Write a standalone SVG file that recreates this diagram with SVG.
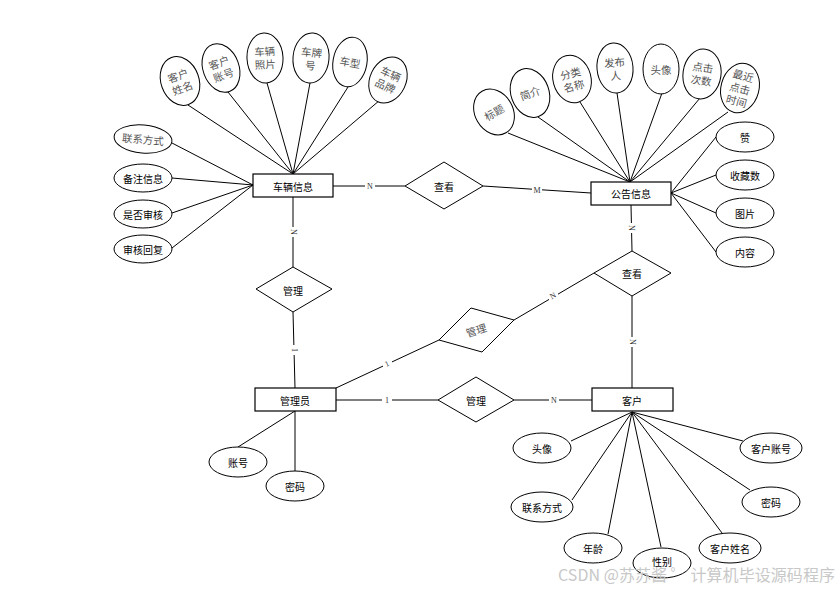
<svg xmlns="http://www.w3.org/2000/svg" width="840" height="589" viewBox="0 0 840 589">
<style>
.e{fill:#fff;stroke:#000;stroke-width:1}
.r{fill:#fff;stroke:#000;stroke-width:1.2}
.d{fill:#fff;stroke:#000;stroke-width:1}
.t{font-family:"Noto Sans CJK SC","Liberation Sans",sans-serif;font-size:10px;fill:#000;text-anchor:middle;dominant-baseline:central}
.g{font-family:"Noto Sans CJK SC","Liberation Sans",sans-serif;font-size:10.5px;fill:#555;text-anchor:middle;dominant-baseline:central}
.l{font-family:"Liberation Serif",serif;font-size:8px;fill:#333;text-anchor:middle;dominant-baseline:central}
.c line{stroke:#000;stroke-width:1}
.w{font-family:"Noto Sans CJK SC","Liberation Sans",sans-serif;font-size:16px;fill:#c8c8c8}
</style>
<rect width="840" height="589" fill="#fff"/>
<g class="c" id="connectors">
<line x1="188" y1="105" x2="293" y2="174"/>
<line x1="228" y1="92" x2="293" y2="174"/>
<line x1="267" y1="83" x2="293" y2="174"/>
<line x1="310" y1="83" x2="293" y2="174"/>
<line x1="348" y1="87" x2="293" y2="174"/>
<line x1="380" y1="100" x2="293" y2="174"/>
<line x1="172" y1="143" x2="253" y2="185"/>
<line x1="172" y1="178" x2="253" y2="185"/>
<line x1="172" y1="213" x2="253" y2="185"/>
<line x1="172" y1="248" x2="253" y2="185"/>
<line x1="508" y1="133" x2="630" y2="182"/>
<line x1="538" y1="117" x2="630" y2="182"/>
<line x1="580" y1="102" x2="630" y2="182"/>
<line x1="617" y1="93" x2="630" y2="182"/>
<line x1="662" y1="93" x2="630" y2="182"/>
<line x1="700" y1="98" x2="630" y2="182"/>
<line x1="728" y1="112" x2="630" y2="182"/>
<line x1="716" y1="137" x2="671" y2="193"/>
<line x1="716" y1="175" x2="671" y2="193"/>
<line x1="716" y1="213" x2="671" y2="193"/>
<line x1="716" y1="252" x2="671" y2="193"/>
<line x1="333" y1="186" x2="405" y2="186"/>
<line x1="483" y1="186" x2="591" y2="193"/>
<line x1="293" y1="197" x2="293" y2="267"/>
<line x1="293" y1="312" x2="295" y2="388"/>
<line x1="631" y1="205" x2="632" y2="251"/>
<line x1="632" y1="296" x2="632" y2="388"/>
<line x1="336" y1="400" x2="438" y2="400"/>
<line x1="514" y1="400" x2="592" y2="400"/>
<line x1="336" y1="388" x2="439" y2="340"/>
<line x1="514" y1="320" x2="594" y2="273"/>
<line x1="295" y1="411" x2="238" y2="447"/>
<line x1="295" y1="411" x2="295" y2="471"/>
<line x1="632" y1="412" x2="571" y2="441"/>
<line x1="632" y1="412" x2="572" y2="500"/>
<line x1="632" y1="412" x2="608" y2="534"/>
<line x1="632" y1="412" x2="661" y2="547"/>
<line x1="632" y1="412" x2="722" y2="533"/>
<line x1="632" y1="412" x2="750" y2="490"/>
<line x1="632" y1="412" x2="743" y2="441"/>
</g>
<g id="labels">
<rect x="365" y="181" width="10" height="10" fill="#fff"/><text class="l" x="370" y="186">N</text>
<rect x="532" y="185" width="10" height="10" fill="#fff"/><text class="l" x="537" y="190">M</text>
<rect x="288" y="227" width="10" height="10" fill="#fff"/><text class="l" x="293" y="232" transform="rotate(90 293 232)">N</text>
<rect x="289" y="345" width="10" height="10" fill="#fff"/><text class="l" x="294" y="350" transform="rotate(90 294 350)">1</text>
<rect x="626" y="223" width="10" height="10" fill="#fff"/><text class="l" x="631" y="228" transform="rotate(90 631 228)">N</text>
<rect x="627" y="337" width="10" height="10" fill="#fff"/><text class="l" x="632" y="342" transform="rotate(90 632 342)">N</text>
<rect x="382" y="395" width="10" height="10" fill="#fff"/><text class="l" x="387" y="400">1</text>
<rect x="549" y="395" width="10" height="10" fill="#fff"/><text class="l" x="554" y="400">N</text>
<rect x="383" y="360" width="9" height="9" fill="#fff"/><text class="l" x="387" y="364" transform="rotate(-25 387 364)">1</text>
<rect x="549" y="292" width="9" height="9" fill="#fff"/><text class="l" x="553" y="296" transform="rotate(-30 553 296)">N</text>
</g>
<g id="car">
<rect class="r" x="253" y="174" width="80" height="23"/>
<text class="t" x="293" y="186">车辆信息</text>
</g>
<g id="notice">
<rect class="r" x="591" y="182" width="80" height="23"/>
<text class="t" x="631" y="193">公告信息</text>
</g>
<g id="admin">
<rect class="r" x="255" y="388" width="81" height="23"/>
<text class="t" x="295" y="400">管理员</text>
</g>
<g id="customer">
<rect class="r" x="592" y="388" width="81" height="23"/>
<text class="t" x="632" y="400">客户</text>
</g>
<g id="rel-view1">
<polygon class="d" points="405,186 444,162 483,186 444,209"/>
<text class="t" x="444" y="186">查看</text>
</g>
<g id="rel-view2">
<polygon class="d" points="594,273 632,251 671,273 632,296"/>
<text class="t" x="632" y="273">查看</text>
</g>
<g id="rel-manage1">
<polygon class="d" points="256,289 293,267 332,289 293,312"/>
<text class="t" x="293" y="290">管理</text>
</g>
<g id="rel-manage2">
<polygon class="d" points="438,400 476,377 514,400 476,422"/>
<text class="t" x="476" y="400">管理</text>
</g>
<g id="rel-manage3">
<polygon class="d" points="471,308 514,320 482,352 439,340"/>
<text class="g" x="476" y="330" transform="rotate(-18 476 330)">管理</text>
</g>
<g id="car-attrs">
<g id="a-khxm" transform="rotate(-20 180 81)"><ellipse class="e" cx="180" cy="81" rx="19" ry="25"/><text class="g" x="180" y="75">客户</text><text class="g" x="180" y="88">姓名</text></g>
<g id="a-khzh" transform="rotate(-20 221 68)"><ellipse class="e" cx="221" cy="68" rx="18" ry="25"/><text class="g" x="221" y="62">客户</text><text class="g" x="221" y="75">账号</text></g>
<g id="a-clzp" transform="rotate(-3 265 58)"><ellipse class="e" cx="265" cy="58" rx="18" ry="25"/><text class="g" x="265" y="51">车辆</text><text class="g" x="265" y="64">照片</text></g>
<g id="a-cph" transform="rotate(5 311 58)"><ellipse class="e" cx="311" cy="58" rx="18" ry="25"/><text class="g" x="311" y="52">车牌</text><text class="g" x="311" y="65">号</text></g>
<g id="a-cx" transform="rotate(10 350 62)"><ellipse class="e" cx="350" cy="62" rx="17" ry="25"/><text class="g" x="350" y="62">车型</text></g>
<g id="a-clpp" transform="rotate(25 388 80)"><ellipse class="e" cx="388" cy="80" rx="18" ry="24"/><text class="g" x="388" y="73">车辆</text><text class="g" x="388" y="86">品牌</text></g>
<g id="a-lxfs1" transform="rotate(5 143 139)"><ellipse class="e" cx="143" cy="139" rx="29" ry="14"/><text class="g" x="143" y="139">联系方式</text></g>
<g id="a-bzxx"><ellipse class="e" cx="143" cy="178" rx="29" ry="14"/><text class="t" x="143" y="178">备注信息</text></g>
<g id="a-sfsh"><ellipse class="e" cx="143" cy="214" rx="29" ry="14"/><text class="t" x="143" y="214">是否审核</text></g>
<g id="a-shhf"><ellipse class="e" cx="143" cy="249" rx="29" ry="14"/><text class="t" x="143" y="249">审核回复</text></g>
</g>
<g id="notice-attrs">
<g id="a-bt" transform="rotate(-30 494 112)"><ellipse class="e" cx="494" cy="112" rx="19" ry="24"/><text class="g" x="494" y="112">标题</text></g>
<g id="a-jj" transform="rotate(-20 530 93)"><ellipse class="e" cx="530" cy="93" rx="19" ry="25"/><text class="g" x="530" y="93">简介</text></g>
<g id="a-flmc" transform="rotate(-15 572 79)"><ellipse class="e" cx="572" cy="79" rx="19" ry="24"/><text class="g" x="572" y="73">分类</text><text class="g" x="572" y="86">名称</text></g>
<g id="a-fbr" transform="rotate(-5 615 68)"><ellipse class="e" cx="615" cy="68" rx="18" ry="25"/><text class="g" x="615" y="62">发布</text><text class="g" x="615" y="75">人</text></g>
<g id="a-tx1"><ellipse class="e" cx="661" cy="69" rx="18" ry="25"/><text class="g" x="661" y="69">头像</text></g>
<g id="a-djcs" transform="rotate(8 702 74)"><ellipse class="e" cx="702" cy="74" rx="19" ry="25"/><text class="g" x="702" y="67">点击</text><text class="g" x="702" y="80">次数</text></g>
<g id="a-zjdjsj" transform="rotate(15 740 88)"><ellipse class="e" cx="740" cy="88" rx="19" ry="25"/><text class="g" x="740" y="75">最近</text><text class="g" x="740" y="88">点击</text><text class="g" x="740" y="101">时间</text></g>
<g id="a-zan"><ellipse class="e" cx="745" cy="137" rx="29" ry="15"/><text class="t" x="745" y="137">赞</text></g>
<g id="a-scs"><ellipse class="e" cx="745" cy="175" rx="29" ry="15"/><text class="t" x="745" y="175">收藏数</text></g>
<g id="a-tp"><ellipse class="e" cx="745" cy="213" rx="29" ry="15"/><text class="t" x="745" y="213">图片</text></g>
<g id="a-nr"><ellipse class="e" cx="745" cy="252" rx="29" ry="15"/><text class="t" x="745" y="252">内容</text></g>
</g>
<g id="admin-attrs">
<g id="a-zh"><ellipse class="e" cx="238" cy="462" rx="29" ry="15"/><text class="t" x="238" y="462">账号</text></g>
<g id="a-mm1"><ellipse class="e" cx="295" cy="486" rx="29" ry="15"/><text class="t" x="295" y="486">密码</text></g>
</g>
<g id="customer-attrs">
<g id="a-tx2"><ellipse class="e" cx="542" cy="448" rx="29" ry="15"/><text class="t" x="542" y="448">头像</text></g>
<g id="a-lxfs2"><ellipse class="e" cx="542" cy="507" rx="31" ry="15"/><text class="t" x="542" y="507">联系方式</text></g>
<g id="a-nl"><ellipse class="e" cx="593" cy="548" rx="29" ry="15"/><text class="t" x="593" y="548">年龄</text></g>
<g id="a-xb"><ellipse class="e" cx="662" cy="563" rx="29" ry="15"/><text class="t" x="662" y="561">性别</text></g>
<g id="a-khxm2"><ellipse class="e" cx="730" cy="548" rx="31" ry="15"/><text class="t" x="730" y="548">客户姓名</text></g>
<g id="a-mm2"><ellipse class="e" cx="771" cy="502" rx="29" ry="15"/><text class="t" x="771" y="502">密码</text></g>
<g id="a-khzh2"><ellipse class="e" cx="771" cy="448" rx="31" ry="15"/><text class="t" x="771" y="448">客户账号</text></g>
</g>
<text class="w" x="558" y="581" textLength="277" lengthAdjust="spacing">CSDN @苏苏酱 ゜ 计算机毕设源码程序</text>
</svg>
